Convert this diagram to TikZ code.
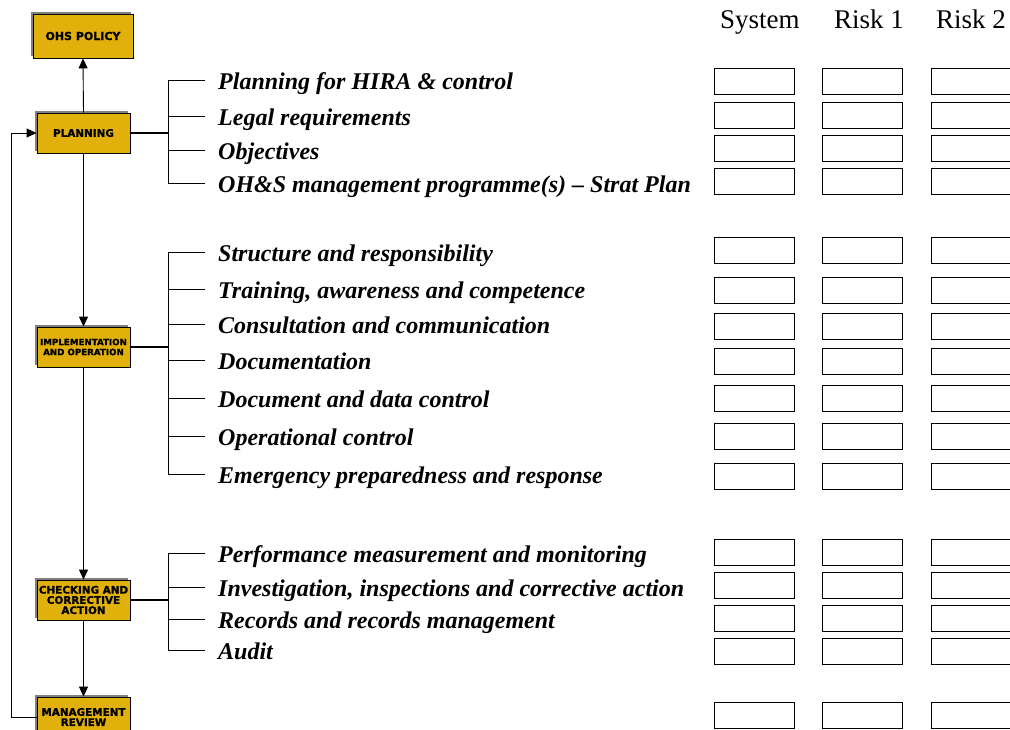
\documentclass[tikz,border=0pt]{standalone}
\usepackage{fontspec}
\setmainfont{Liberation Serif}
\setsansfont{DejaVu Sans}[BoldFeatures={FakeBold=1.2}]
\usetikzlibrary{arrows.meta,shadows,calc}
\definecolor{ohsgold}{RGB}{226,176,10}
\definecolor{ohsshadow}{RGB}{128,128,128}

\begin{document}
\begin{tikzpicture}[x=1pt,y=-1pt,
  stage/.style={draw=black, line width=0.9pt, fill=ohsgold,
    minimum width=93pt, minimum height=40pt, inner sep=0pt, align=center,
    font=\sffamily\bfseries\fontsize{10.4}{10.2}\selectfont,
    drop shadow={shadow xshift=-2.5pt, shadow yshift=2.5pt, fill=ohsshadow, opacity=1}},
  item/.style={anchor=base west, inner sep=0pt,
    font=\bfseries\itshape\fontsize{24}{24}\selectfont},
  hdr/.style={anchor=base west, inner sep=0pt, font=\fontsize{27}{27}\selectfont},
  cell/.style={draw=black, line width=0.9pt, fill=white, anchor=north west,
    minimum width=80pt, minimum height=26pt, inner sep=0pt},
  flow/.style={line width=0.9pt, -{Triangle[width=9pt,length=10pt]}},
  link/.style={line width=0.8pt},
  bus/.style={line width=1.3pt}
]
\useasboundingbox (0,0) rectangle (1010,729);

% ---- main process stages ----
\node[stage, minimum width=100pt, minimum height=44pt,
  font=\sffamily\bfseries\fontsize{11}{10}\selectfont] (policy) at (83,36) {OHS POLICY};
\node[stage] (planning) at (83.5,133) {PLANNING};
\node[stage, font=\sffamily\bfseries\fontsize{8.7}{10}\selectfont] (impl) at (83.5,347) {IMPLEMENTATION\\AND OPERATION};
\node[stage] (check) at (83.5,600) {CHECKING AND\\CORRECTIVE\\ACTION};
\node[stage] (review) at (83.5,717) {MANAGEMENT\\REVIEW};

\draw[flow] (planning.north) -- (policy.south);
\draw[flow] (planning.south) -- (impl.north);
\draw[flow] (impl.south) -- (check.north);
\draw[flow] (check.south) -- (review.north);

% feedback loop from review back to planning
\coordinate (loopA) at (11,717);
\coordinate (loopB) at (11,133);
\draw[flow] (review.west) -- (loopA) -- (loopB) -- (planning.west);

% ---- planning elements ----
\foreach \i/\y in {1/80,2/116,3/150,4/183} {
  \coordinate (pl-b\i) at (168,\y);
  \coordinate (pl-e\i) at (205,\y);
  \draw[link] (pl-b\i) -- (pl-e\i);
}
\coordinate (pl-bus) at (168,133);
\draw[bus] (planning.east) -- (pl-bus);
\draw[link] (pl-b1) -- (pl-b4);
\node[item] (pl-x1) at ($(pl-e1)+(13,9)$) {Planning for HIRA \& control};
\node[item] (pl-x2) at ($(pl-e2)+(13,9)$) {Legal requirements};
\node[item] (pl-x3) at ($(pl-e3)+(13,9)$) {Objectives};
\node[item] (pl-x4) at ($(pl-e4)+(13,9)$) {OH\&S management programme(s) – Strat Plan};

% ---- implementation elements ----
\foreach \i/\y in {1/252,2/289,3/324,4/360,5/398,6/436,7/474} {
  \coordinate (im-b\i) at (168,\y);
  \coordinate (im-e\i) at (205,\y);
  \draw[link] (im-b\i) -- (im-e\i);
}
\coordinate (im-bus) at (168,347);
\draw[bus] (impl.east) -- (im-bus);
\draw[link] (im-b1) -- (im-b7);
\node[item] (im-x1) at ($(im-e1)+(13,9)$) {Structure and responsibility};
\node[item] (im-x2) at ($(im-e2)+(13,9)$) {Training, awareness and competence};
\node[item] (im-x3) at ($(im-e3)+(13,9)$) {Consultation and communication};
\node[item] (im-x4) at ($(im-e4)+(13,9)$) {Documentation};
\node[item] (im-x5) at ($(im-e5)+(13,9)$) {Document and data control};
\node[item] (im-x6) at ($(im-e6)+(13,9)$) {Operational control};
\node[item] (im-x7) at ($(im-e7)+(13,9)$) {Emergency preparedness and response};

% ---- checking elements ----
\foreach \i/\y in {1/553,2/587,3/619,4/650} {
  \coordinate (ch-b\i) at (168,\y);
  \coordinate (ch-e\i) at (205,\y);
  \draw[link] (ch-b\i) -- (ch-e\i);
}
\coordinate (ch-bus) at (168,600);
\draw[bus] (check.east) -- (ch-bus);
\draw[link] (ch-b1) -- (ch-b4);
\node[item] (ch-x1) at ($(ch-e1)+(13,9)$) {Performance measurement and monitoring};
\node[item] (ch-x2) at ($(ch-e2)+(13,9)$) {Investigation, inspections and corrective action};
\node[item] (ch-x3) at ($(ch-e3)+(13,9)$) {Records and records management};
\node[item] (ch-x4) at ($(ch-e4)+(13,9)$) {Audit};

% ---- rating columns ----
\node[hdr] (h-sys) at (720,28) {System};
\node[hdr] (h-r1) at (834,28) {Risk 1};
\node[hdr] (h-r2) at (936,28) {Risk 2};

\foreach \y [count=\i] in {68,102,135,168,237,277,313,348,385,423,463,539,572,605,638,702} {
  \node[cell] (sys-\i) at (714,\y) {};
  \node[cell] (ra-\i) at (822,\y) {};
  \node[cell] (rb-\i) at (931,\y) {};
}
\end{tikzpicture}
\end{document}
